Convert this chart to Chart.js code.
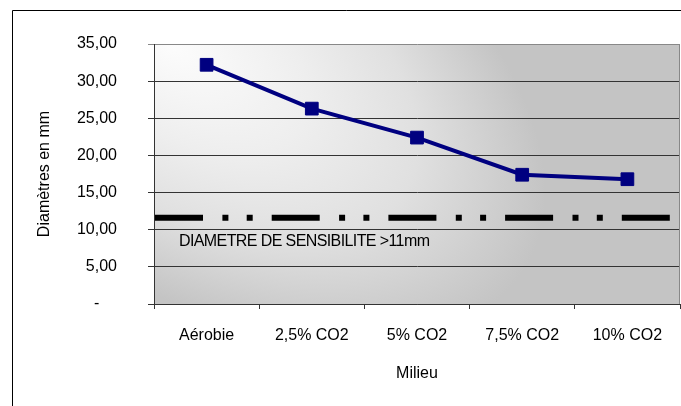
<!DOCTYPE html>
<html>
<head>
<meta charset="utf-8">
<script src="https://cdn.jsdelivr.net/npm/chart.js@4.4.0/dist/chart.umd.min.js"></script>
<style>
  html, body { margin: 0; padding: 0; background: #fff; overflow: hidden; }
  canvas { display: block; }
</style>
</head>
<body>
<canvas id="diamChart" width="681" height="406"></canvas>
<script>
// Chart data
const milieux = ['Aérobie', '2,5% CO2', '5% CO2', '7,5% CO2', '10% CO2'];
const diametres = [32.2, 26.3, 22.4, 17.4, 16.8];
const yTickLabels = ['-    ', '5,00', '10,00', '15,00', '20,00', '25,00', '30,00', '35,00'];
const seuilSensibilite = 11.6;
const seuilLabel = 'DIAMETRE DE SENSIBILITE >11mm';

const FONT = "'Liberation Sans', Arial, sans-serif";

// Plot area background: light in the upper left, fading to grey
const backgroundPlugin = {
  id: 'plotBackground',
  beforeDraw(chart) {
    const { ctx, chartArea: a } = chart;
    ctx.save();
    ctx.fillStyle = '#fff';
    ctx.fillRect(0, 0, chart.width, chart.height);
    ctx.beginPath();
    ctx.rect(a.left, a.top, a.right - a.left, a.bottom - a.top);
    ctx.clip();
    ctx.translate(a.left + 16, a.top);
    ctx.rotate(Math.atan2(156, 246));
    ctx.scale(1, 230 / 420);
    const g = ctx.createRadialGradient(0, 0, 0, 0, 0, 420);
    g.addColorStop(0, '#fcfcfc');
    g.addColorStop(0.37, '#eeeeee');
    g.addColorStop(0.66, '#e0e0e0');
    g.addColorStop(1, '#c4c4c4');
    ctx.fillStyle = g;
    ctx.fillRect(-2000, -3000, 4000, 6000);
    ctx.restore();
  }
};

// Threshold line, its label and the frames
const seuilPlugin = {
  id: 'seuil',
  beforeDatasetsDraw(chart) {
    const { ctx, chartArea: a, scales } = chart;
    const y = scales.y.getPixelForValue(seuilSensibilite);
    ctx.save();
    ctx.strokeStyle = '#000';
    ctx.lineWidth = 6;
    ctx.setLineDash([48, 19.4, 6, 18.3, 6, 19]);
    ctx.beginPath();
    ctx.moveTo(a.left + 1, y);
    ctx.lineTo(a.right - 10, y);
    ctx.stroke();
    ctx.setLineDash([]);
    ctx.fillStyle = '#000';
    ctx.font = '16px ' + FONT;
    ctx.letterSpacing = '-0.6px';
    ctx.textBaseline = 'alphabetic';
    ctx.fillText(seuilLabel, a.left + 25, y + 28);
    ctx.restore();
  },
  afterDraw(chart) {
    const { ctx, chartArea: a } = chart;
    ctx.save();
    ctx.lineWidth = 1;
    // grey right edge of plot area
    ctx.strokeStyle = '#888';
    ctx.beginPath();
    ctx.moveTo(a.right - 0.5, a.top);
    ctx.lineTo(a.right - 0.5, a.bottom);
    ctx.stroke();
    // outer chart frame
    ctx.strokeStyle = '#000';
    ctx.beginPath();
    ctx.moveTo(12.5, chart.height);
    ctx.lineTo(12.5, 10.5);
    ctx.lineTo(chart.width, 10.5);
    ctx.stroke();
    ctx.restore();
  }
};

new Chart(document.getElementById('diamChart'), {
  type: 'line',
  data: {
    labels: milieux,
    datasets: [{
      label: 'Diamètres',
      data: diametres,
      borderColor: '#000080',
      backgroundColor: '#000080',
      borderWidth: 4,
      pointStyle: 'rect',
      pointRadius: 9,
      pointBorderWidth: 1,
      tension: 0,
      fill: false
    }]
  },
  options: {
    responsive: false,
    animation: false,
    events: [],
    layout: { autoPadding: false, padding: { top: 44, right: 1, left: 0, bottom: 0 } },
    plugins: { legend: { display: false }, tooltip: { enabled: false } },
    scales: {
      x: {
        offset: true,
        grid: { offset: true, drawOnChartArea: false, drawTicks: true, tickLength: 5, color: '#333' },
        border: { color: '#333' },
        ticks: { color: '#000', font: { family: FONT, size: 16 }, padding: 17, maxRotation: 0, autoSkip: false },
        title: { display: true, text: 'Milieu', color: '#000', font: { family: FONT, size: 16 }, padding: { top: 0, bottom: 23 } },
        afterFit(scale) {
          scale.height = 102;
          scale.paddingLeft = 0;
          scale.paddingRight = 0;
        }
      },
      y: {
        min: 0,
        max: 35,
        ticks: {
          stepSize: 5,
          color: '#000',
          font: { family: FONT, size: 16 },
          padding: 31,
          callback: (v, i) => yTickLabels[i]
        },
        grid: {
          color: ctx => (ctx.tick && ctx.tick.value === 35 ? '#888' : '#333'),
          tickLength: 6
        },
        border: { color: '#333' },
        title: { display: true, text: 'Diamètres en mm', color: '#000', font: { family: FONT, size: 16 }, padding: { top: 35, bottom: 0 } },
        afterFit(scale) {
          scale.width = 154;
          scale.paddingTop = 0;
          scale.paddingBottom = 0;
        }
      }
    }
  },
  plugins: [backgroundPlugin, seuilPlugin]
});
</script>
</body>
</html>
